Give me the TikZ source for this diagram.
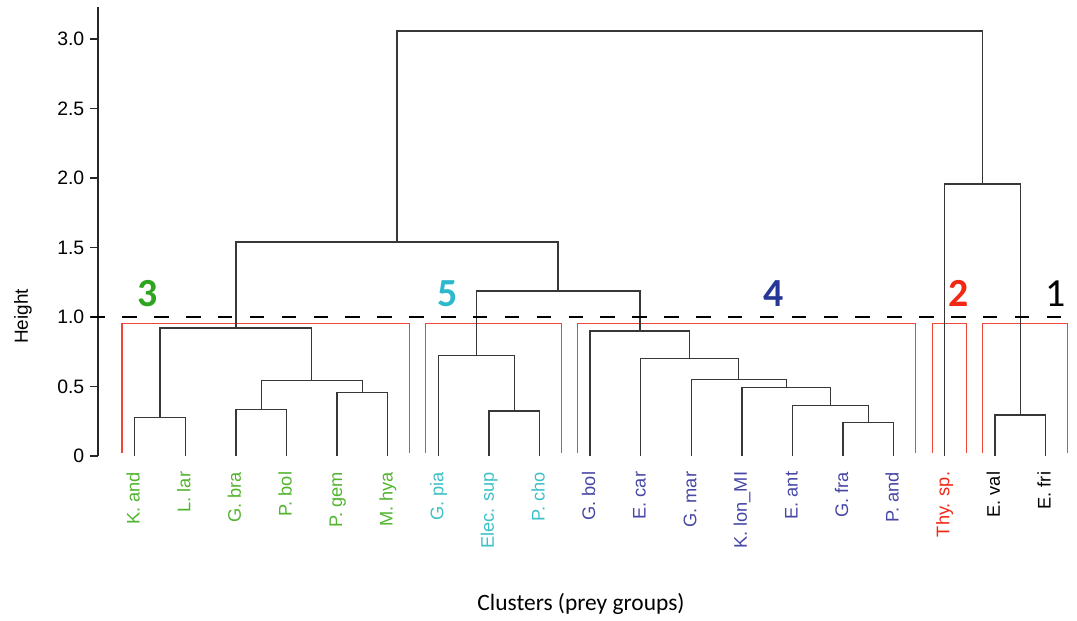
\documentclass[tikz,border=0pt]{standalone}
\usepackage{fontspec}
\setmainfont{Liberation Sans}
\newfontfamily\calfont{Carlito}
\definecolor{cgreen}{RGB}{45,165,30}
\definecolor{lgreen}{RGB}{80,180,45}
\definecolor{ccyan}{RGB}{45,185,205}
\definecolor{lcyan}{RGB}{60,192,198}
\definecolor{cblue}{RGB}{40,55,150}
\definecolor{lblue}{RGB}{70,70,165}
\definecolor{cred}{RGB}{240,40,20}
\definecolor{rectred}{RGB}{240,70,55}
\definecolor{treegray}{RGB}{55,55,55}
\begin{document}
\begin{tikzpicture}[x=1bp,y=-1bp,
  tree/.style={draw=treegray,line width=1.3bp},
  cut/.style={draw=rectred,line width=1.2bp},
  leaf/.style={rotate=90,anchor=base east,inner sep=0pt,font=\fontsize{18.3}{20}\selectfont},
  ticklab/.style={anchor=east,inner sep=0pt,font=\fontsize{19.5}{22}\selectfont},
  clab/.style={anchor=base,inner sep=0pt,font=\calfont\bfseries\fontsize{40}{44}\selectfont},
  axisline/.style={draw=black!85,line width=1.1bp}]
\useasboundingbox (0,0) rectangle (1077,621);
% axis
\draw[axisline] (98,456) -- (98,7.5);
\foreach \h/\t in {0/0,0.5/0.5,1/1.0,1.5/1.5,2/2.0,2.5/2.5,3/3.0}{
  \draw[axisline] (90,{456-139*\h}) -- (98,{456-139*\h});
  \node[ticklab] (tk\h) at (84.5,{456-139*\h}) {\t};
}
\node[rotate=90,inner sep=0pt,font=\fontsize{19}{22}\selectfont] (ylab) at (23,316.5) {Height};
\node[inner sep=0pt,font=\calfont\fontsize{23.5}{26}\selectfont] (xlab) at (581,604) {Clusters (prey groups)};
% cluster rectangles
\draw[cut] (122,453.3) -- (122,323.7) -- (409.3,323.7) -- (409.3,453.3);
\draw[cut] (425.7,453.3) -- (425.7,323.7) -- (561.7,323.7) -- (561.7,453.3);
\draw[cut] (577.3,453.3) -- (577.3,323.7) -- (915.3,323.7) -- (915.3,453.3);
\draw[cut] (932.3,453.3) -- (932.3,323.7) -- (966.3,323.7) -- (966.3,453.3);
\draw[cut] (982.7,453.3) -- (982.7,323.7) -- (1067.7,323.7) -- (1067.7,453.3);
% leaves
\foreach \n/\i in {Kand/0,Llar/1,Gbra/2,Pbol/3,Pgem/4,Mhya/5,Gpia/6,Elec/7,Pcho/8,Gbol/9,Ecar/10,Gmar/11,Klon/12,Eant/13,Gfra/14,Pand/15,Thy/16,Eval/17,Efri/18}{
  \coordinate (\n) at ({134.7+50.6*\i},456);
}
% merges
\coordinate (ma) at (160,417.3);
\coordinate (mb) at (261.2,409.3);
\coordinate (mc) at (362.4,392.3);
\coordinate (md) at (311.8,380.7);
\coordinate (me) at (235.9,328);
\coordinate (mf) at (514.2,411);
\coordinate (mg) at (476.25,355.3);
\coordinate (mh) at (868.4,422.7);
\coordinate (mi) at (830.45,405.3);
\coordinate (mj) at (786.2,387.3);
\coordinate (mk) at (738.75,379.3);
\coordinate (ml) at (689.7,358.7);
\coordinate (mm) at (639.9,331);
\coordinate (mn) at (558.1,291);
\coordinate (mo) at (397,242);
\coordinate (mp) at (1020.2,415);
\coordinate (mq) at (982.25,184);
\coordinate (mr) at (689.6,31);
\foreach \p/\a/\b in {ma/Kand/Llar,mb/Gbra/Pbol,mc/Pgem/Mhya,md/mb/mc,me/ma/md,mf/Elec/Pcho,mg/Gpia/mf,mh/Gfra/Pand,mi/Eant/mh,mj/Klon/mi,mk/Gmar/mj,ml/Ecar/mk,mm/Gbol/ml,mn/mg/mm,mo/me/mn,mp/Eval/Efri,mq/Thy/mp,mr/mo/mq}{
  \draw[tree] (\a) |- (\p) -| (\b);
}
% cut line
\coordinate (cutL) at (90.5,317);
\coordinate (cutR) at (1062,317);
\draw[black,line width=1.2bp,dash pattern=on 14.5bp off 17.37bp] (cutL) -- (cutR);
% cluster labels
\node[clab,text=cgreen] (c3) at (148,306.5) {3};
\node[clab,text=ccyan] (c5) at (448,306.5) {5};
\node[clab,text=cblue] (c4) at (773.5,306.5) {4};
\node[clab,text=cred] (c2) at (959,306.5) {2};
\node[clab,font=\calfont\fontsize{40}{44}\selectfont,text=black] (c1) at (1056,306.5) {1};
% leaf labels
\foreach \n/\t/\c in {Kand/K. and/lgreen,Llar/L. lar/lgreen,Gbra/G. bra/lgreen,Pbol/P. bol/lgreen,Pgem/P. gem/lgreen,Mhya/M. hya/lgreen,Gpia/G. pia/lcyan,Elec/Elec. sup/lcyan,Pcho/P. cho/lcyan,Gbol/G. bol/lblue,Ecar/E. car/lblue,Gmar/G. mar/lblue,Klon/K. lon\_MI/lblue,Eant/E. ant/lblue,Gfra/G. fra/lblue,Pand/P. and/lblue,Thy/Thy. sp./cred,Eval/E. val/black,Efri/E. fri/black}{
  \node[leaf,text=\c] (t\n) at ([xshift=5bp,yshift=-15.7bp]\n) {\t};
}
\end{tikzpicture}
\end{document}
